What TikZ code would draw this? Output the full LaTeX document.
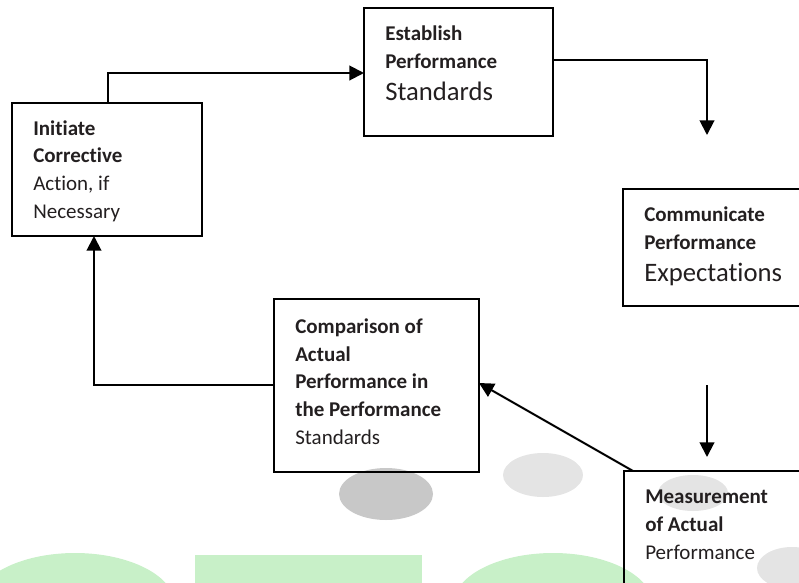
\documentclass[tikz,border=0pt]{standalone}
\usepackage{fontspec}
\setmainfont{Carlito}[Ligatures=NoCommon]
\usetikzlibrary{arrows.meta}
\definecolor{txt}{RGB}{35,31,32}
\definecolor{wmgreen}{RGB}{200,240,200}
\definecolor{wmgray}{RGB}{200,200,200}
\definecolor{wmlight}{RGB}{228,228,228}
\newcommand{\bigtxt}[1]{{\fontsize{20}{24}\selectfont #1}}
\begin{document}
\begin{tikzpicture}[x=0.75pt,y=-0.75pt,
  box/.style={draw=black, line width=1.5pt, inner sep=0pt, outer sep=0pt, anchor=north west},
  lbl/.style={anchor=base west, align=left, inner sep=0pt, text=txt, font=\fontsize{15.75}{20.7}\selectfont},
  conn/.style={draw=black, line width=1.5pt},
  tip/.style={-{Triangle[length=11pt,width=11pt]}},
]
\useasboundingbox (0,0) rectangle (799,582);
\clip (0,0) rectangle (799,582);
% watermark shapes
\fill[wmgreen] (75,605) ellipse [x radius=100, y radius=52];
\fill[wmgreen] (195,555) rectangle (422,600);
\fill[wmgreen] (553,605) ellipse [x radius=100, y radius=52];
\fill[wmgray] (386,494) ellipse [x radius=47, y radius=26];
\fill[wmlight] (543,475) ellipse [x radius=40, y radius=22];
\fill[wmlight] (693,493) ellipse [x radius=35, y radius=18];
\fill[wmlight] (792,568) ellipse [x radius=35, y radius=21];
% boxes
\node[box, minimum width=142.5pt, minimum height=99.75pt] (init) at (12,103) {};
\node[box, minimum width=141.75pt, minimum height=96pt] (est) at (364,8) {};
\node[box, minimum width=140.25pt, minimum height=87.75pt] (comm) at (623,189) {};
\node[box, minimum width=153.75pt, minimum height=129.75pt] (comp) at (274,299) {};
\node[box, minimum width=139.5pt, minimum height=111.75pt] (meas) at (624,471) {};
% texts (anchored at the baseline of their last line)
\node[lbl] (initT) at (33,218) {\textbf{Initiate}\\\textbf{Corrective}\\Action, if\\Necessary};
\node[lbl] (estT) at (385,100) {\textbf{Establish}\\\textbf{Performance}\\[3pt]\bigtxt{Standards}};
\node[lbl] (commT) at (644,281) {\textbf{Communicate}\\\textbf{Performance}\\[3pt]\bigtxt{Expectations}};
\node[lbl] (compT) at (295,444) {\textbf{Comparison of}\\\textbf{Actual}\\\textbf{Performance in}\\\textbf{the Performance}\\Standards};
\node[lbl] (measT) at (645,559) {\textbf{Measurement}\\\textbf{of Actual}\\Performance};
% connector helper points
\coordinate (c1) at (108,73);
\coordinate (c2) at (707,60);
\coordinate (c3) at (707,135);
\coordinate (c4) at (707,385);
\coordinate (c5) at (707,457);
\coordinate (c6) at (633,471);
\coordinate (c7) at (481,383);
\coordinate (c8) at (94,385);
% connectors
\draw[conn,tip] (init.north -| c1) -- (c1) -- (c1 -| est.west);
\draw[conn,tip] (c2 -| est.east) -- (c2) -- (c3);
\draw[conn,tip] (c4) -- (c5);
\draw[conn,tip] (meas.north -| c6) -- (c7 -| comp.east);
\draw[conn,tip] (c8 -| comp.west) -- (c8) -- (init.south -| c8);
\end{tikzpicture}
\end{document}
